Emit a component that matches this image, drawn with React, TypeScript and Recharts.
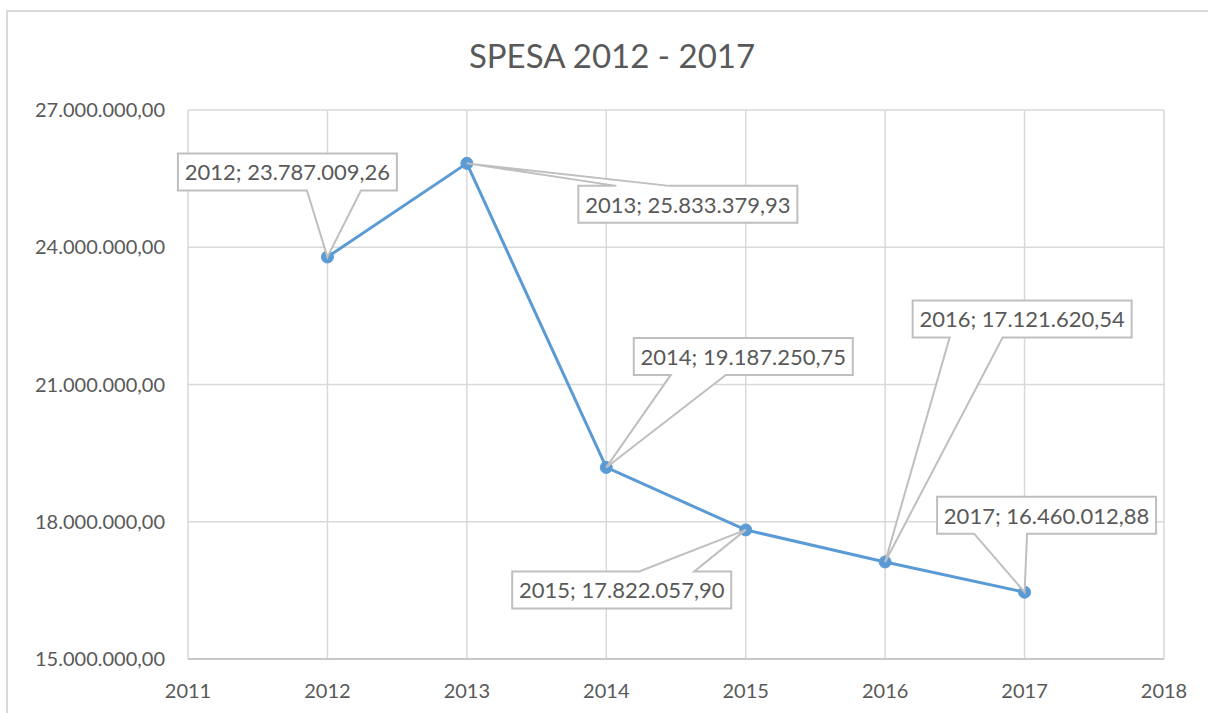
import { LineChart, Line, XAxis, YAxis, CartesianGrid, LabelList } from 'recharts';

const years = [2012, 2013, 2014, 2015, 2016, 2017];
const spesa = [23787009.26, 25833379.93, 19187250.75, 17822057.9, 17121620.54, 16460012.88];
const xTicks = [2011, 2012, 2013, 2014, 2015, 2016, 2017, 2018];
const yTicks = [15000000, 18000000, 21000000, 24000000, 27000000];

// where each callout box sits relative to its point (pixels), and where its wedge leaves the box
const calloutLayout = [
  { dx: -40, dy: -85, w1: 129, w2: 183, side: 'bottom' },
  { dx: 221, dy: 41, w1: 38, w2: 91, side: 'top' },
  { dx: 137, dy: -111, w1: 37, w2: 92, side: 'bottom' },
  { dx: -124, dy: 60, w1: 127, w2: 182, side: 'top' },
  { dx: 137, dy: -243, w1: 37, w2: 90, side: 'bottom' },
  { dx: 22, dy: -77, w1: 37, w2: 90, side: 'bottom' },
];

const data = years.map((year, i) => ({ year, spesa: spesa[i] }));

const TEXT = '#595959';
const FONT = 'Lato, "Open Sans", sans-serif';

function formatIt(v: number) {
  const [int, dec] = v.toFixed(2).split('.');
  return int.replace(/\B(?=(\d{3})+(?!\d))/g, '.') + ',' + dec;
}

function Callout(props: any) {
  const { x, y, index, value } = props;
  const l = calloutLayout[index];
  if (!l) return null;
  const w = 219;
  const h = 37;
  const cx = x + l.dx;
  const cy = y + l.dy;
  const left = cx - w / 2;
  const right = cx + w / 2;
  const top = cy - h / 2;
  const bottom = cy + h / 2;
  const d =
    l.side === 'bottom'
      ? `M${left},${top} H${right} V${bottom} H${left + l.w2} L${x},${y} L${left + l.w1},${bottom} H${left} Z`
      : `M${left},${top} H${left + l.w1} L${x},${y} L${left + l.w2},${top} H${right} V${bottom} H${left} Z`;
  return (
    <g>
      <path d={d} fill="#fff" stroke="#bfbfbf" strokeWidth={2} strokeLinejoin="miter" />
      <text
        x={cx}
        y={cy}
        textAnchor="middle"
        dominantBaseline="central"
        fill={TEXT}
        fontSize={22}
        fontFamily={FONT}
      >
        {`${years[index]}; ${formatIt(value)}`}
      </text>
    </g>
  );
}

export default function App() {
  return (
    <div style={{ position: 'absolute', left: 0, top: 0, width: 1208, height: 713, overflow: 'hidden', background: '#fff' }}>
      <div
        style={{
          position: 'absolute',
          left: 6,
          top: 10,
          width: 1220,
          height: 720,
          border: '2px solid #d9d9d9',
        }}
      />
      <div
        style={{
          position: 'absolute',
          left: 0,
          width: 1224,
          top: 33,
          textAlign: 'center',
          fontFamily: FONT,
          fontSize: 33,
          color: TEXT,
          lineHeight: '44px',
        }}
      >
        SPESA 2012 - 2017
      </div>
      <div style={{ position: 'absolute', left: 0, top: 0 }}>
        <LineChart width={1208} height={713} data={data} margin={{ top: 110, right: 44, bottom: 0, left: 0 }}>
          <CartesianGrid stroke="#d9d9d9" strokeWidth={1.5} />
          <XAxis
            type="number"
            dataKey="year"
            domain={[2011, 2018]}
            ticks={xTicks}
            interval={0}
            height={54}
            tickLine={false}
            tickMargin={19}
            axisLine={{ stroke: '#bfbfbf', strokeWidth: 1.5 }}
            tick={{ fill: TEXT, fontSize: 20, fontFamily: FONT }}
          />
          <YAxis
            type="number"
            domain={[15000000, 27000000]}
            ticks={yTicks}
            interval={0}
            width={188}
            tickLine={false}
            axisLine={false}
            tickMargin={17}
            tickFormatter={(v: number) => formatIt(v)}
            tick={{ fill: TEXT, fontSize: 20, fontFamily: FONT }}
          />
          <Line
            type="linear"
            dataKey="spesa"
            stroke="#5b9bd5"
            strokeWidth={3}
            dot={{ r: 6, fill: '#5b9bd5', stroke: '#5b9bd5', strokeWidth: 1 }}
            activeDot={false}
            isAnimationActive={false}
          >
            <LabelList dataKey="spesa" content={Callout} />
          </Line>
        </LineChart>
      </div>
    </div>
  );
}
